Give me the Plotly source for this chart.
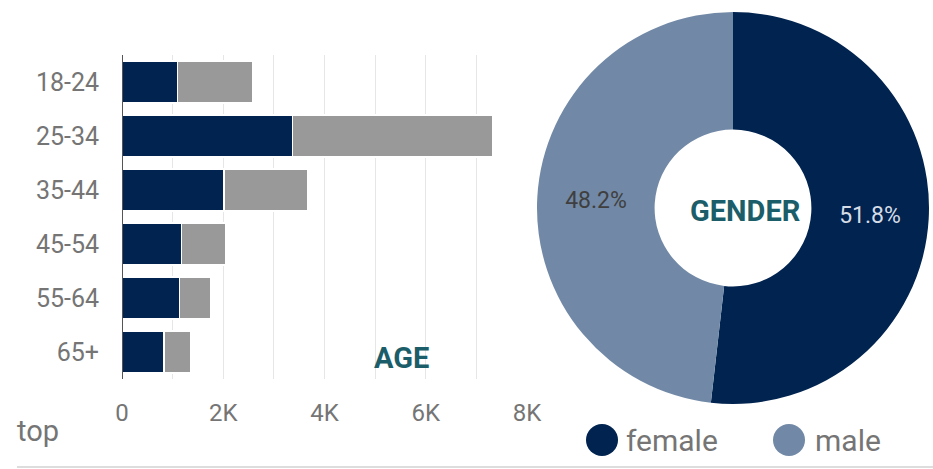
import plotly.graph_objects as go

age_groups = ["18-24", "25-34", "35-44", "45-54", "55-64", "65+"]
female_counts = [1100, 3370, 2010, 1180, 1140, 830]
male_counts = [1490, 3960, 1650, 870, 620, 530]
gender_labels = ["female", "male"]
gender_share = [51.8, 48.2]
x_tickvals = [0, 2000, 4000, 6000, 8000]
x_ticktext = ["0", "2K", "4K", "6K", "8K"]

NAVY = "#00234F"
GRAY_BAR = "#999999"
STEEL = "#7189A6"
TEAL = "#1B5E69"
TXT = "#757575"
FONT = "Roboto"
W, H = 933, 469

fig = go.Figure()
fig.add_trace(go.Bar(y=age_groups, x=female_counts, orientation="h", name="female",
                     marker=dict(color=NAVY, line=dict(color="white", width=1.5)),
                     showlegend=False, hoverinfo="x+y"))
fig.add_trace(go.Bar(y=age_groups, x=male_counts, orientation="h", name="male",
                     marker=dict(color=GRAY_BAR, line=dict(color="white", width=1.5)),
                     showlegend=False, hoverinfo="x+y"))

fig.add_trace(go.Pie(labels=gender_labels, values=gender_share, hole=0.4, sort=False,
                     direction="clockwise", rotation=0,
                     marker=dict(colors=[NAVY, STEEL], line=dict(width=0)),
                     textinfo="percent", texttemplate="%{percent:.1%}",
                     textposition="inside", insidetextorientation="horizontal",
                     textfont=dict(family=FONT, size=23, color=["#D5DCE6", "#3F3F3F"]),
                     domain=dict(x=[537 / W, 929 / W], y=[1 - 404 / H, 1 - 12 / H]),
                     showlegend=False))

px0, px1 = 122 / W, 527 / W
py0, py1 = 1 - 379 / H, 1 - 55 / H

fig.update_layout(
    width=W, height=H, margin=dict(l=0, r=0, t=0, b=0, autoexpand=False),
    paper_bgcolor="white", plot_bgcolor="white",
    barmode="stack", bargap=0.22,
    font=dict(family=FONT, color=TXT, size=20),
    xaxis=dict(domain=[px0, px1], range=[0, 8000], tickvals=x_tickvals, ticktext=x_ticktext,
               showgrid=True, gridcolor="#E6E6E6", gridwidth=1,
               minor=dict(dtick=1000, showgrid=True, gridcolor="#E6E6E6", gridwidth=1),
               zeroline=False, showline=False, ticks="", ticklabelstandoff=17,
               tickfont=dict(size=24, color=TXT, family=FONT), fixedrange=True),
    yaxis=dict(domain=[py0, py1], categoryorder="array", categoryarray=age_groups[::-1],
               showgrid=False, zeroline=False, showline=False, ticks="",
               ticklabelstandoff=22, tickfont=dict(size=25, color=TXT, family=FONT),
               fixedrange=True),
)

# zero axis line on the left of the bars
fig.add_shape(type="line", xref="x", yref="paper", x0=0, x1=0, y0=py0, y1=py1,
              line=dict(color="#555555", width=2))

# titles
fig.add_annotation(text="<b>AGE</b>", xref="paper", yref="paper", x=401 / W, y=1 - 358 / H,
                   showarrow=False, font=dict(family=FONT, size=29, color=TEAL),
                   xanchor="center", yanchor="middle")
fig.add_annotation(text="<b>GENDER</b>", xref="paper", yref="paper", x=745 / W, y=1 - 211 / H,
                   showarrow=False, font=dict(family=FONT, size=29, color=TEAL),
                   xanchor="center", yanchor="middle")
fig.add_annotation(text="top", xref="paper", yref="paper", x=15 / W, y=1 - 431 / H,
                   showarrow=False, font=dict(family=FONT, size=29, color=TXT),
                   xanchor="left", yanchor="middle")

# custom legend
legend_items = [(602, NAVY, "female", 624), (789, STEEL, "male", 813)]
for cx, col, lab, tx in legend_items:
    fig.add_shape(type="circle", xref="paper", yref="paper",
                  x0=(cx - 16) / W, x1=(cx + 16) / W, y0=1 - (440 + 16) / H, y1=1 - (440 - 16) / H,
                  fillcolor=col, line=dict(width=0))
    fig.add_annotation(text=lab, xref="paper", yref="paper", x=tx / W, y=1 - 440 / H,
                       showarrow=False, font=dict(family=FONT, size=30, color=TXT),
                       xanchor="left", yanchor="middle")

# bottom divider
fig.add_shape(type="line", xref="paper", yref="paper", x0=17 / W, x1=1, y0=1 - 467 / H, y1=1 - 467 / H,
              line=dict(color="#DDDDDD", width=2))

fig.write_html("out.html", config=dict(displayModeBar=False),
               post_script="document.body.style.margin='0';document.body.style.overflow='hidden';")
